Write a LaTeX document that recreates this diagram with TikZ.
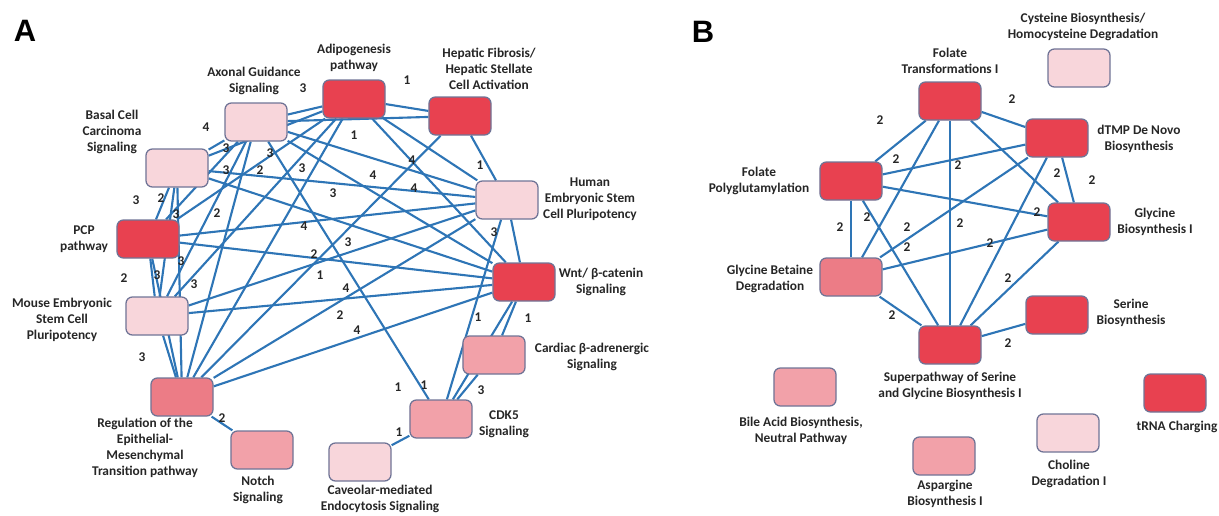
\documentclass[tikz,border=0pt]{standalone}
\usepackage{fontspec}
\setmainfont{Carlito}
\newfontfamily\panelfont{Liberation Sans}
\usetikzlibrary{backgrounds}

\definecolor{pwred}{RGB}{232,65,80}
\definecolor{pwpink}{RGB}{248,214,219}
\definecolor{pwmid}{RGB}{242,161,169}
\definecolor{pwrose}{RGB}{236,124,134}
\definecolor{pwedge}{RGB}{46,117,182}
\definecolor{pwframe}{RGB}{112,116,150}
\definecolor{pwtext}{RGB}{38,38,38}

\begin{document}
\begin{tikzpicture}[x=0.025cm,y=-0.025cm,
  box/.style={draw=pwframe,line width=0.9pt,rounded corners=0.16cm,fill=#1,
    minimum width=1.55cm,minimum height=0.95cm,inner sep=0pt},
  txt/.style={align=center,text=pwtext,font=\fontsize{9.5}{11.4}\selectfont\bfseries},
  wt/.style={text=pwtext,font=\fontsize{9.5}{10}\selectfont\bfseries,inner sep=0pt},
  edge/.style={pwedge,line width=1.5pt},
  panel/.style={font=\panelfont\fontsize{22}{24}\selectfont\bfseries}]

  \useasboundingbox (0,0) rectangle (1219,515);

  \node[panel] (pA) at (25,31) {A};
  \node[panel] (pB) at (703,32) {B};

  % pathways, left network
  \node[box=pwred]  (Adi)   at (354,99)  {};
  \node[box=pwred]  (Hep)   at (460,116) {};
  \node[box=pwpink] (Axo)   at (256,122) {};
  \node[box=pwpink] (Bas)   at (177,168) {};
  \node[box=pwpink] (Hum)   at (507,200) {};
  \node[box=pwred]  (PCP)   at (148,239) {};
  \node[box=pwred]  (Wnt)   at (524,282) {};
  \node[box=pwpink] (Mou)   at (157,316) {};
  \node[box=pwmid]  (Car)   at (494,355) {};
  \node[box=pwrose] (Reg)   at (182,397) {};
  \node[box=pwmid]  (CDK)   at (441,419) {};
  \node[box=pwmid]  (Notch) at (262,450) {};
  \node[box=pwpink] (Cav)   at (360,462) {};

  \node[txt] (Adi-t)   at (354,58)  {Adipogenesis\\pathway};
  \node[txt] (Hep-t)   at (489,69)  {Hepatic Fibrosis/\\Hepatic Stellate\\Cell Activation};
  \node[txt] (Axo-t)   at (254,81)  {Axonal Guidance\\Signaling};
  \node[txt] (Bas-t)   at (112,132) {Basal Cell\\Carcinoma\\Signaling};
  \node[txt] (Hum-t)   at (590,199) {Human\\Embryonic Stem\\Cell Pluripotency};
  \node[txt] (PCP-t)   at (84,239)  {PCP\\pathway};
  \node[txt] (Wnt-t)   at (601,282) {Wnt/ β-catenin\\Signaling};
  \node[txt] (Mou-t)   at (62,320)  {Mouse Embryonic\\Stem Cell\\Pluripotency};
  \node[txt] (Car-t)   at (592,357) {Cardiac β-adrenergic\\Signaling};
  \node[txt] (Reg-t)   at (145,448) {Regulation of the\\Epithelial-\\Mesenchymal\\Transition pathway};
  \node[txt] (CDK-t)   at (504,424) {CDK5\\Signaling};
  \node[txt] (Notch-t) at (258,490) {Notch\\Signaling};
  \node[txt] (Cav-t)   at (380,499) {Caveolar-mediated\\Endocytosis Signaling};

  % pathways, right network
  \node[box=pwred]  (FolT) at (950,101)  {};
  \node[box=pwpink] (Cys)  at (1079,68)  {};
  \node[box=pwred]  (dTMP) at (1057,138) {};
  \node[box=pwred]  (FolP) at (851,181)  {};
  \node[box=pwred]  (GlyB) at (1079,222) {};
  \node[box=pwrose] (GBet) at (851,277)  {};
  \node[box=pwred]  (SerB) at (1057,315) {};
  \node[box=pwred]  (Sup)  at (950,345)  {};
  \node[box=pwmid]  (Bile) at (805,387)  {};
  \node[box=pwred]  (tRNA) at (1175,393) {};
  \node[box=pwpink] (Chol) at (1068,433) {};
  \node[box=pwmid]  (Asp)  at (944,456)  {};

  \node[txt] (Cys-t)  at (1083,27)  {Cysteine Biosynthesis/\\Homocysteine Degradation};
  \node[txt] (FolT-t) at (950,61)   {Folate\\Transformations I};
  \node[txt] (dTMP-t) at (1139,139) {dTMP De Novo\\Biosynthesis};
  \node[txt] (FolP-t) at (759,181)  {Folate\\Polyglutamylation};
  \node[txt] (GlyB-t) at (1155,222) {Glycine\\Biosynthesis I};
  \node[txt] (GBet-t) at (770,279)  {Glycine Betaine\\Degradation};
  \node[txt] (SerB-t) at (1131,313) {Serine\\Biosynthesis};
  \node[txt] (Sup-t)  at (950,386)  {Superpathway of Serine\\and Glycine Biosynthesis I};
  \node[txt] (Bile-t) at (801,431)  {Bile Acid Biosynthesis,\\Neutral Pathway};
  \node[txt] (tRNA-t) at (1177,427) {tRNA Charging};
  \node[txt] (Chol-t) at (1069,474) {Choline\\Degradation I};
  \node[txt] (Asp-t)  at (945,494)  {Aspargine\\Biosynthesis I};

  % links go under the boxes
  \begin{scope}[on background layer]
    \foreach \a/\b in {Axo/Adi,Adi/Hep,Bas/Axo,Axo/Hep,Hep/Hum,Adi/Hum,Adi/Wnt,
        Axo/Hum,Bas/Hum,Axo/Wnt,Axo/CDK,Hum/CDK,Hum/Wnt,Wnt/Car,Wnt/CDK,Car/CDK,
        CDK/Cav,Reg/Notch,Mou/Reg,PCP/Reg,PCP/Mou,Bas/PCP,Axo/PCP,Adi/PCP,Bas/Reg,
        Axo/Reg,Adi/Reg,Hep/Reg,Hum/Reg,Wnt/Reg,PCP/Hum,PCP/Wnt,Mou/Hum,Mou/Wnt,
        Bas/Wnt,Axo/Mou,Adi/Bas,Adi/Mou,Bas/Mou}
      \draw[edge] (\a) -- (\b);
    \foreach \a/\b in {FolT/dTMP,FolT/FolP,FolT/GlyB,FolT/Sup,FolT/GBet,FolP/dTMP,
        FolP/GlyB,FolP/GBet,FolP/Sup,dTMP/GBet,dTMP/Sup,dTMP/GlyB,GlyB/GBet,
        GlyB/Sup,GBet/Sup,SerB/Sup}
      \draw[edge] (\a) -- (\b);
  \end{scope}

  % shared-gene counts
  \foreach \x/\y/\w [count=\i] in {303/88/3,407/80/1,206/127/4,354/135/1,226/148/3,
      270/153/3,302/168/3,260/170/2,226/170/3,333/193/3,373/175/4,412/160/4,
      414/188/4,480/165/1,494/232/3,136/200/3,161/198/2,176/214/3,217/213/2,
      304/226/4,314/254/2,320/275/1,181/261/3,157/275/3,194/284/3,124/278/2,
      142/357/3,222/418/2,348/242/3,346/288/4,340/315/2,357/330/4,398/387/1,
      424/385/1,478/317/1,528/318/1,481/390/3,399/432/1}
    \node[wt] (wa\i) at (\x,\y) {\w};
  \foreach \x/\y [count=\i] in {880/120,1012/99,896/159,958/165,1057/173,1092/180,
      1037/212,840/227,867/217,907/227,960/223,907/247,990/243,1008/278,
      892/315,1008/343}
    \node[wt] (wb\i) at (\x,\y) {2};
\end{tikzpicture}
\end{document}
